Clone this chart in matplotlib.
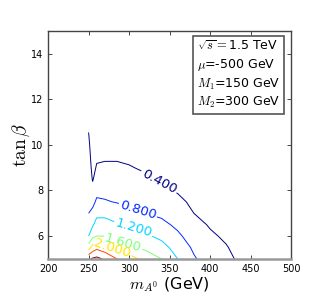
import numpy as np
import matplotlib
matplotlib.use("Agg")
import matplotlib.pyplot as plt

plt.rcParams['mathtext.fontset'] = 'cm'

# grid of m_A0 (GeV) and tan(beta)
m_A = [250, 255, 260, 270, 285, 300, 320, 340, 360, 380, 400, 420, 440, 470, 500]
tan_b = [5, 5.5, 6, 6.5, 7, 7.5, 8, 8.5, 9, 9.5, 10, 11, 12, 13, 14, 15]

# values, one list per m_A column (bottom to top in tan_b)
cols = [
    [2.75, 1.80, 1.20, 1.00, 0.80, 0.74, 0.69, 0.63, 0.57, 0.51, 0.46, 0.35, 0.28, 0.22, 0.18, 0.15],
    [2.85, 2.15, 1.50, 1.15, 0.90, 0.70, 0.52, 0.37, 0.30, 0.26, 0.23, 0.19, 0.16, 0.14, 0.12, 0.10],
    [2.90, 2.30, 1.60, 1.35, 1.10, 0.86, 0.70, 0.56, 0.43, 0.35, 0.30, 0.24, 0.20, 0.17, 0.14, 0.12],
    [2.75, 2.15, 1.60, 1.35, 1.10, 0.83, 0.70, 0.57, 0.45, 0.36, 0.31, 0.25, 0.21, 0.18, 0.15, 0.13],
    [2.40, 1.85, 1.42, 1.24, 1.00, 0.78, 0.67, 0.56, 0.45, 0.36, 0.31, 0.25, 0.21, 0.18, 0.15, 0.13],
    [2.20, 1.65, 1.38, 1.15, 0.93, 0.72, 0.62, 0.52, 0.42, 0.34, 0.29, 0.23, 0.19, 0.16, 0.14, 0.12],
    [1.85, 1.52, 1.27, 1.05, 0.80, 0.68, 0.56, 0.45, 0.36, 0.30, 0.26, 0.21, 0.17, 0.15, 0.13, 0.11],
    [1.60, 1.35, 1.10, 0.90, 0.72, 0.60, 0.47, 0.36, 0.30, 0.26, 0.23, 0.19, 0.16, 0.14, 0.12, 0.10],
    [1.20, 1.03, 0.87, 0.72, 0.60, 0.48, 0.37, 0.31, 0.27, 0.24, 0.21, 0.17, 0.14, 0.12, 0.11, 0.10],
    [0.84, 0.74, 0.62, 0.51, 0.40, 0.33, 0.28, 0.25, 0.22, 0.20, 0.18, 0.15, 0.13, 0.11, 0.10, 0.09],
    [0.62, 0.55, 0.45, 0.37, 0.31, 0.27, 0.24, 0.21, 0.19, 0.17, 0.16, 0.13, 0.11, 0.10, 0.09, 0.08],
    [0.50, 0.42, 0.35, 0.30, 0.26, 0.23, 0.20, 0.18, 0.16, 0.15, 0.14, 0.12, 0.10, 0.09, 0.08, 0.07],
    [0.30, 0.27, 0.24, 0.21, 0.19, 0.17, 0.15, 0.14, 0.13, 0.12, 0.11, 0.10, 0.09, 0.08, 0.07, 0.06],
    [0.22, 0.20, 0.18, 0.16, 0.14, 0.13, 0.12, 0.11, 0.10, 0.09, 0.09, 0.08, 0.07, 0.06, 0.05, 0.05],
    [0.17, 0.15, 0.14, 0.13, 0.12, 0.11, 0.10, 0.09, 0.08, 0.08, 0.07, 0.06, 0.06, 0.05, 0.05, 0.04],
]
levels = [0.4, 0.8, 1.2, 1.6, 2.0, 2.4, 2.8]

X, Y = np.meshgrid(m_A, tan_b)
Z = np.array(cols).T

fig = plt.figure(figsize=(3.23, 3.06), dpi=100)
ax = fig.add_axes([0.149, 0.154, 0.752, 0.745])

cs = ax.contour(X, Y, Z, levels=levels, cmap='jet', linewidths=0.7)
label_spots = [(337, 8.4), (311, 7.15), (305, 6.3), (293, 5.75), (279, 5.45)]
ax.clabel(cs, levels[:5], fmt='%.3f', fontsize=9.5, inline=True, manual=label_spots)

ax.set_xlim(200, 500)
ax.set_ylim(5, 15)
ax.set_yticks([6, 8, 10, 12, 14])
ax.tick_params(direction='in', top=True, right=True, labelsize=7, length=3, width=0.5)
for s in ax.spines.values():
    s.set_color('#444444')
    s.set_linewidth(1.0)
ax.spines['bottom'].set_color('#999999')
ax.spines['bottom'].set_linewidth(1.8)

ax.set_xlabel(r'$m_{A^0}$ (GeV)', fontsize=11.5, labelpad=1)
ax.set_ylabel(r'$\tan\beta$', fontsize=14, labelpad=-1)

ax.text(0.955, 0.965, '$\\sqrt{s}=$1.5 TeV\n$\\mu$=-500 GeV\n$M_1$=150 GeV\n$M_2$=300 GeV',
        transform=ax.transAxes, ha='right', va='top', multialignment='left',
        fontsize=9, linespacing=1.35,
        bbox=dict(boxstyle='square,pad=0.3', fc='white', ec='#555555', lw=1.2))

fig.savefig('out.png', dpi=100)
